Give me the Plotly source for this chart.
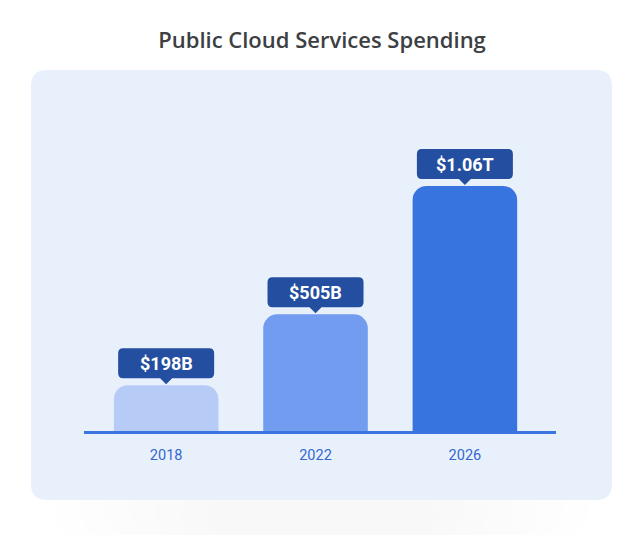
import plotly.graph_objects as go

# ---- data ----
years = ["2018", "2022", "2026"]
spending_billion = [198, 505, 1060]
value_labels = ["$198B", "$505B", "$1.06T"]
bar_colors = ["#B6CCF6", "#719CF0", "#3874E0"]

title_text = "Public Cloud Services Spending"

# ---- style constants ----
LABEL_BG = "#244E9F"
PANEL_BG = "#E8F0FC"
AXIS_BLUE = "#3A75E0"
TICK_BLUE = "#3467CF"

# the page body adds an 8px margin, so the figure is 8px smaller
W, H = 632, 527


def label_path(w=48, b=7, t=37, r=5, pw=6, tip=1):
    """Rounded label box with a small pointer, in pixel offsets (y up)."""
    pts = [
        f"M{-w + r},{t}", f"L{w - r},{t}", f"Q{w},{t},{w},{t - r}",
        f"L{w},{b + r}", f"Q{w},{b},{w - r},{b}",
        f"L{pw},{b}", f"L0,{tip}", f"L{-pw},{b}",
        f"L{-w + r},{b}", f"Q{-w},{b},{-w},{b + r}",
        f"L{-w},{t - r}", f"Q{-w},{t},{-w + r},{t}", "Z",
    ]
    return " ".join(pts)


def rounded_rect(x0, y0, x1, y1, r):
    return (f"M{x0 + r},{y1} L{x1 - r},{y1} Q{x1},{y1},{x1},{y1 - r} "
            f"L{x1},{y0 + r} Q{x1},{y0},{x1 - r},{y0} L{x0 + r},{y0} "
            f"Q{x0},{y0},{x0},{y0 + r} L{x0},{y1 - r} Q{x0},{y1},{x0 + r},{y1} Z")


fig = go.Figure()
fig.add_trace(go.Bar(
    x=years,
    y=spending_billion,
    marker=dict(color=bar_colors, line=dict(width=0)),
    width=0.7,
    hoverinfo="skip",
))

shapes = []
# soft shadow under the panel
for k in range(7):
    shapes.append(dict(
        type="path", xref="paper", yref="paper", xanchor=0, yanchor=0,
        xsizemode="pixel", ysizemode="pixel", layer="below",
        path=rounded_rect(-30 + k * 25, -110, 505 - k * 25, -40 - k * 3, 40),
        fillcolor="rgba(70,70,80,0.009)", line=dict(width=0),
    ))
# panel
shapes.append(dict(
    type="path", xref="paper", yref="paper", xanchor=0, yanchor=0,
    xsizemode="pixel", ysizemode="pixel", layer="below",
    path=rounded_rect(-53, -69, 528, 361, 16),
    fillcolor=PANEL_BG, line=dict(width=0),
))
# value label boxes, anchored at each bar's top
for i, v in enumerate(spending_billion):
    shapes.append(dict(
        type="path", xref="x", yref="y", xanchor=i, yanchor=v,
        xsizemode="pixel", ysizemode="pixel", layer="above",
        path=label_path(), fillcolor=LABEL_BG, line=dict(width=0),
    ))

annotations = []
for i, (v, lab) in enumerate(zip(spending_billion, value_labels)):
    annotations.append(dict(
        x=i, y=v, xref="x", yref="y", text=f"<b>{lab}</b>",
        showarrow=False, yanchor="middle", xanchor="center", yshift=22,
        font=dict(family="Roboto, Open Sans, sans-serif", size=18, color="white"),
    ))

fig.update_layout(
    width=W, height=H,
    margin=dict(l=76, r=84, t=132, b=104),
    paper_bgcolor="white",
    plot_bgcolor="rgba(0,0,0,0)",
    showlegend=False,
    barcornerradius=14,
    title=dict(
        text=title_text, x=314 / W, xanchor="center", y=1 - 32 / H, yanchor="middle",
        font=dict(family="Open Sans, Roboto, sans-serif", size=22, color="#3C4043", weight=600),
    ),
    xaxis=dict(
        type="category", range=[-0.55, 2.61],
        showline=True, linecolor=AXIS_BLUE, linewidth=2.5,
        ticks="outside", ticklen=9, tickcolor="rgba(0,0,0,0)",
        showgrid=False, zeroline=False, fixedrange=True,
        tickfont=dict(family="Roboto, Open Sans, sans-serif", size=14.5, color=TICK_BLUE),
    ),
    yaxis=dict(range=[0, 1259], visible=False, showgrid=False, zeroline=False, fixedrange=True),
    shapes=shapes,
    annotations=annotations,
)

fig.write_html("out.html")
